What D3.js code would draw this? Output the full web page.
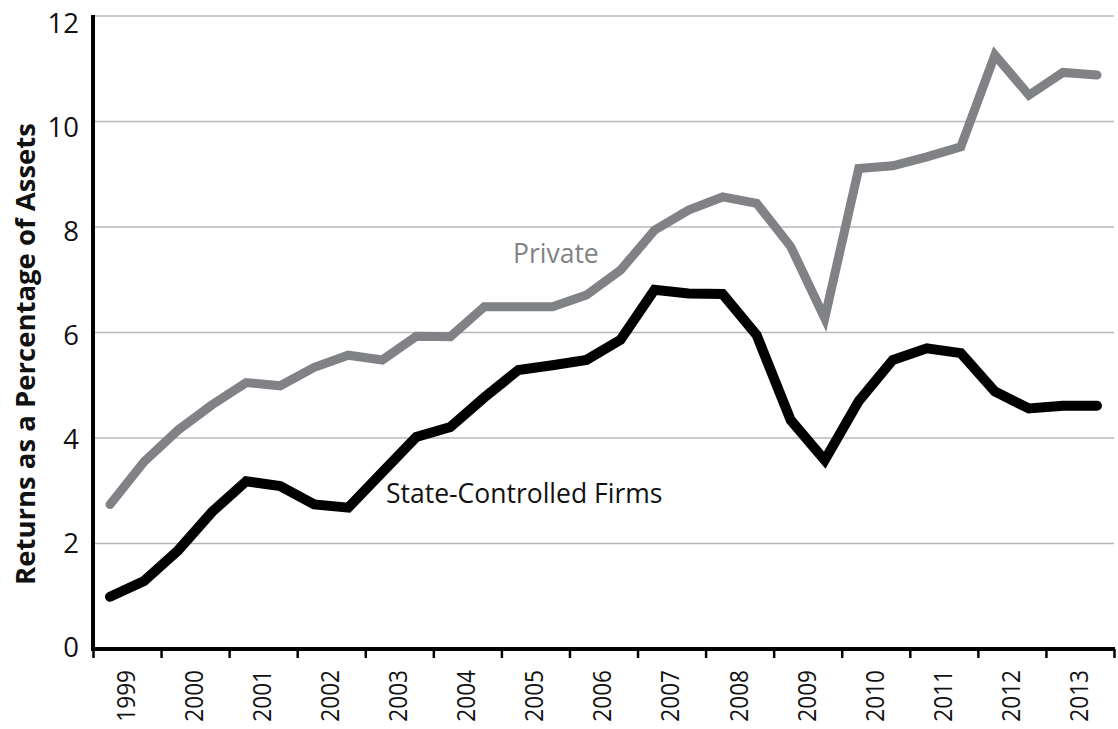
<!DOCTYPE html>
<html>
<head>
<meta charset="utf-8">
<script src="https://cdn.jsdelivr.net/npm/d3@7"></script>
<style>
  html, body { margin: 0; padding: 0; background: #fff; }
  svg { display: block; font-family: "Open Sans", sans-serif; }
</style>
</head>
<body>
<svg id="chart" width="1118" height="729"></svg>
<script>
const years = [1999, 2000, 2001, 2002, 2003, 2004, 2005, 2006, 2007, 2008, 2009, 2010, 2011, 2012, 2013];
const periods = [
  "1999 H1","1999 H2","2000 H1","2000 H2","2001 H1","2001 H2","2002 H1","2002 H2",
  "2003 H1","2003 H2","2004 H1","2004 H2","2005 H1","2005 H2","2006 H1","2006 H2",
  "2007 H1","2007 H2","2008 H1","2008 H2","2009 H1","2009 H2","2010 H1","2010 H2",
  "2011 H1","2011 H2","2012 H1","2012 H2","2013 H1","2013 H2"
];
const privateValues = [
  2.74, 3.55, 4.15, 4.63, 5.05, 4.99, 5.34, 5.57, 5.48, 5.93,
  5.92, 6.49, 6.49, 6.49, 6.71, 7.18, 7.94, 8.32, 8.57, 8.45,
  7.63, 6.27, 9.11, 9.16, 9.33, 9.52, 11.26, 10.50, 10.93, 10.88
];
const stateValues = [
  0.99, 1.29, 1.87, 2.60, 3.18, 3.09, 2.74, 2.68, 3.35, 4.02,
  4.21, 4.77, 5.29, 5.38, 5.48, 5.86, 6.81, 6.74, 6.73, 5.95,
  4.34, 3.58, 4.70, 5.48, 5.70, 5.61, 4.88, 4.56, 4.61, 4.61
];
const yTicks = [0, 2, 4, 6, 8, 10, 12];
const yTitle = "Returns as a Percentage of Assets";
const seriesLabels = { private: "Private", state: "State-Controlled Firms" };

(function () {
const svg = d3.select("#chart");
const mLeft = 93, mRight = 1114, mTop = 16, mBottom = 649;

const x = d3.scaleLinear().domain([1999, 2014]).range([mLeft, mRight]);
const y = d3.scaleLinear().domain([0, 12]).range([mBottom, mTop]);
// tick labels sit on a slightly compressed ladder in the reference
const yLabel = d3.scaleLinear().domain([0, 12]).range([647, 23]);

function periodToX(p) {
  const [yr, h] = p.split(" ");
  return x(+yr + (h === "H1" ? 0.25 : 0.75));
}

// gridlines
svg.append("g")
  .selectAll("line")
  .data(yTicks.filter(d => d > 0))
  .join("line")
  .attr("x1", mLeft).attr("x2", mRight)
  .attr("y1", d => y(d)).attr("y2", d => y(d))
  .attr("stroke", "#b8b8b8").attr("stroke-width", 1.5);

// y tick labels
svg.append("g")
  .selectAll("text")
  .data(yTicks)
  .join("text")
  .attr("x", 79)
  .attr("y", d => yLabel(d))
  .attr("dy", "0.36em")
  .attr("text-anchor", "end")
  .attr("font-size", 27.5)
  .attr("fill", "#111")
  .text(d => d);

// y title
svg.append("text")
  .attr("transform", `translate(35, 354) rotate(-90)`)
  .attr("text-anchor", "middle")
  .attr("font-size", 27.5)
  .attr("font-weight", "bold")
  .attr("fill", "#111")
  .text(yTitle);

// x axis ticks
const xAxis = d3.axisBottom(x)
  .tickValues(d3.range(years[0], years[years.length - 1] + 2))
  .tickFormat("")
  .tickSizeInner(9)
  .tickSizeOuter(0);
const gx = svg.append("g").attr("transform", `translate(0, ${mBottom})`).call(xAxis);
gx.select(".domain").remove();
gx.selectAll(".tick line").attr("stroke", "#000").attr("stroke-width", 2.5);

// x labels
svg.append("g")
  .selectAll("text")
  .data(years)
  .join("text")
  .attr("transform", d => `translate(${x(d + 0.5) - 1.5}, 670) rotate(-90) scale(0.87, 1)`)
  .attr("text-anchor", "end")
  .attr("dy", "0.36em")
  .attr("font-size", 26)
  .attr("fill", "#111")
  .text(d => d);

// axis lines
svg.append("line")
  .attr("x1", mLeft).attr("x2", mLeft)
  .attr("y1", mTop - 1).attr("y2", mBottom + 2)
  .attr("stroke", "#000").attr("stroke-width", 4);
svg.append("line")
  .attr("x1", mLeft - 2).attr("x2", mRight + 1)
  .attr("y1", mBottom).attr("y2", mBottom)
  .attr("stroke", "#000").attr("stroke-width", 4);

// lines
const line = d3.line()
  .x((d, i) => periodToX(periods[i]))
  .y(d => y(d));

svg.append("path")
  .datum(privateValues)
  .attr("d", line)
  .attr("fill", "none")
  .attr("stroke", "#808285")
  .attr("stroke-width", 9)
  .attr("stroke-linecap", "round")
  .attr("stroke-linejoin", "miter");

svg.append("path")
  .datum(stateValues)
  .attr("d", line)
  .attr("fill", "none")
  .attr("stroke", "#000")
  .attr("stroke-width", 10)
  .attr("stroke-linecap", "round")
  .attr("stroke-linejoin", "miter");

// series labels
svg.append("text")
  .attr("x", 513).attr("y", 263)
  .attr("font-size", 26.5)
  .attr("fill", "#808285")
  .text(seriesLabels.private);

svg.append("text")
  .attr("x", 386).attr("y", 503)
  .attr("font-size", 26.5)
  .attr("fill", "#111")
  .text(seriesLabels.state);
})();
</script>
</body>
</html>
